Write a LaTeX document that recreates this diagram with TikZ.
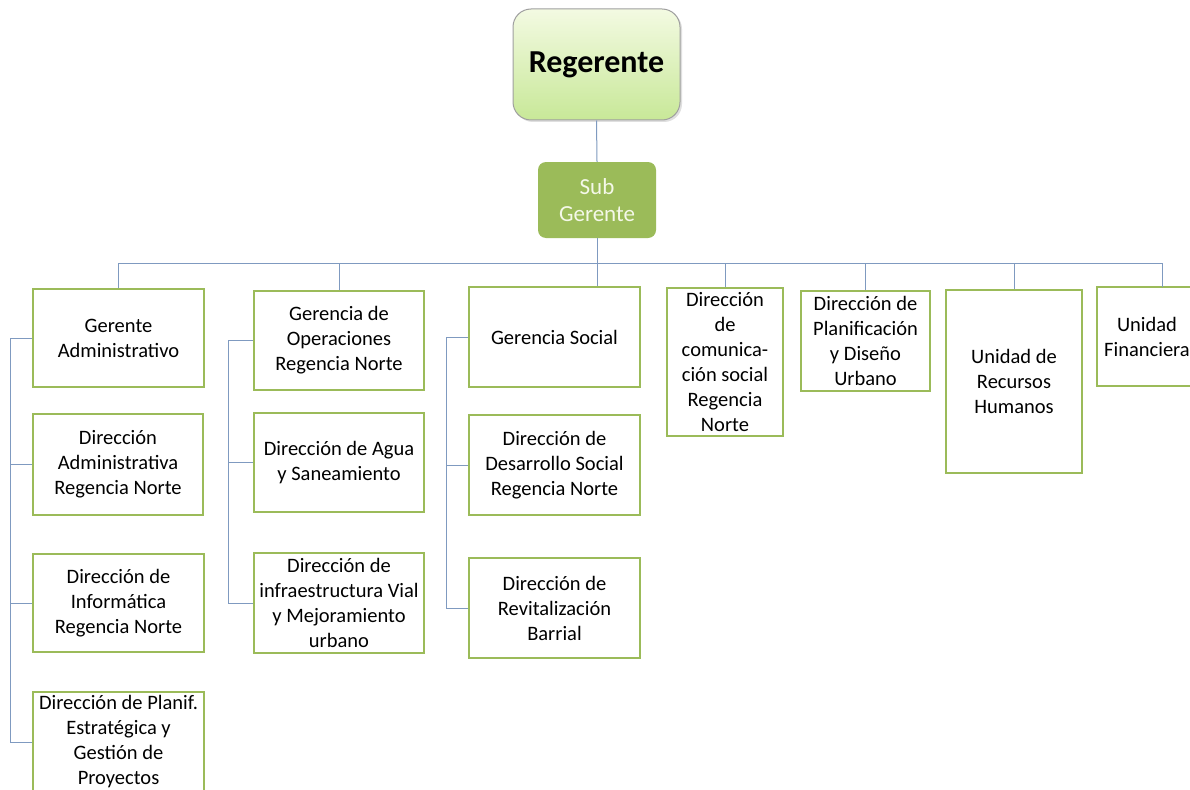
\documentclass[tikz,border=0pt]{standalone}
\usepackage{fontspec}
\setmainfont{Carlito}
\definecolor{boxgreen}{HTML}{9BBB59}
\definecolor{conncol}{HTML}{7F9AC0}
\definecolor{toptop}{HTML}{F3FAE2}
\definecolor{topbot}{HTML}{C8E898}
\definecolor{subtext}{HTML}{F4F8E8}
\tikzset{
  unitbox/.style={draw=boxgreen, line width=2.6pt, fill=white, align=center,
    font=\fontsize{20.5}{25}\selectfont, inner sep=1pt},
  conn/.style={draw=conncol, line width=1pt},
}
\begin{document}
\begin{tikzpicture}[x=1pt,y=-1pt]
\useasboundingbox (0,0) rectangle (1190,789);
\fill[white] (0,0) rectangle (1190,789);

% top nodes
\fill[gray!25, rounded corners=18pt] (515,11) rectangle (682,122);
\node[draw=gray!75, line width=1pt, rounded corners=18pt, top color=toptop, bottom color=topbot,
  minimum width=167pt, minimum height=111pt, font=\fontsize{32}{36}\selectfont\bfseries]
  (rg) at (596.5,64.5) {Regerente};
\node[fill=boxgreen, rounded corners=8pt, minimum width=118pt, minimum height=76pt,
  text=subtext, align=center, font=\fontsize{23}{27}\selectfont]
  (sg) at (597,200) {Sub\\Gerente};

% column 1
\node[unitbox, minimum width=171pt, minimum height=98pt] (ga) at (118.5,338) {Gerente\\Administrativo};
\node[unitbox, minimum width=170pt, minimum height=101pt] (da) at (118,464.5) {Dirección\\Administrativa\\Regencia Norte};
\node[unitbox, minimum width=171pt, minimum height=98pt] (di) at (118.5,603) {Dirección de\\Informática\\Regencia Norte};
\node[unitbox, minimum width=171pt, minimum height=100pt] (dp) at (118.5,742) {Dirección de Planif.\\Estratégica y\\Gestión de\\Proyectos};

% column 2
\node[unitbox, minimum width=170pt, minimum height=99pt] (go) at (339,340.5) {Gerencia de\\Operaciones\\Regencia Norte};
\node[unitbox, minimum width=170pt, minimum height=99pt] (dag) at (339,462.5) {Dirección de Agua\\y Saneamiento};
\node[unitbox, minimum width=170pt, minimum height=100pt] (dinf) at (339,603) {Dirección de\\infraestructura Vial\\y Mejoramiento\\urbano};

% column 3
\node[unitbox, minimum width=171pt, minimum height=100pt] (gs) at (554.5,337) {Gerencia Social};
\node[unitbox, minimum width=171pt, minimum height=100pt] (dds) at (554.5,465) {Dirección de\\Desarrollo Social\\Regencia Norte};
\node[unitbox, minimum width=171pt, minimum height=100pt] (drb) at (554.5,608) {Dirección de\\Revitalización\\Barrial};

% top row right
\node[unitbox, minimum width=116pt, minimum height=148pt] (dcs) at (725,362) {Dirección\\de\\comunica-\\ción social\\Regencia\\Norte};
\node[unitbox, minimum width=129pt, minimum height=100pt] (dpu) at (865.5,341) {Dirección de\\Planificación\\y Diseño\\Urbano};
\node[unitbox, minimum width=136pt, minimum height=183pt] (urh) at (1014,381.5) {Unidad de\\Recursos\\Humanos};
\node[unitbox, minimum width=100pt, minimum height=99pt] (uf) at (1147,336.5) {Unidad\\Financiera};

% connectors
\coordinate (busy) at (0,263);
\coordinate (ufdrop) at (1162,287);
\draw[conn] (rg.south) -- (sg.north);
\draw[conn] (sg.south) -- (gs.north -| sg.south);
\draw[conn] (ga.north |- busy) -- (ufdrop |- busy);
\foreach \n in {ga,go,dcs,dpu,urh}{
  \draw[conn] (\n.north) -- (\n.north |- busy);
}
\draw[conn] (ufdrop) -- (ufdrop |- busy);

% side buses
\coordinate (c1) at (10,0);
\coordinate (c2) at (228,0);
\coordinate (c3) at (446,0);
\draw[conn] (ga.west) -- (ga.west -| c1) -- (dp.west -| c1) -- (dp.west);
\draw[conn] (da.west) -- (da.west -| c1);
\draw[conn] (di.west) -- (di.west -| c1);
\draw[conn] (go.west) -- (go.west -| c2) -- (dinf.west -| c2) -- (dinf.west);
\draw[conn] (dag.west) -- (dag.west -| c2);
\draw[conn] (gs.west) -- (gs.west -| c3) -- (drb.west -| c3) -- (drb.west);
\draw[conn] (dds.west) -- (dds.west -| c3);
\end{tikzpicture}
\end{document}
